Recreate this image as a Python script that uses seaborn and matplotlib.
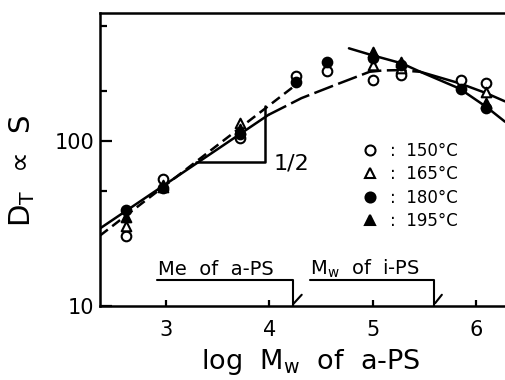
import numpy as np
import pandas as pd
import matplotlib
matplotlib.use("Agg")
import matplotlib.pyplot as plt
import matplotlib.ticker as mticker
from matplotlib.lines import Line2D
import seaborn as sns

# ---------------- data ----------------
log_mw = [2.61, 2.97, 3.72, 4.26, 4.56, 5.00, 5.27, 5.85, 6.10]
ds_150 = [26.5, 58.6, 104, 248, 267, 236, 252, 234, 224]
ds_165 = [30.5, 54.0, 128, np.nan, np.nan, 288, 276, np.nan, 199]
ds_180 = [38.2, 51.6, 111, 229, 302, 317, 290, 208, 158]
ds_195 = [34.7, 53.0, 119, np.nan, np.nan, 347, 302, np.nan, 169]
temps = ["150°C", "165°C", "180°C", "195°C"]

# fitted curves
low_solid_x = [2.36, 3.99]
low_solid_y = [29.5, 144]
low_dash_x = [3.99, 4.16, 4.31, 4.63, 4.97, 5.10, 5.24, 5.46]
low_dash_y = [144, 163, 182, 218, 263, 268, 269, 263]
low_tail_x = [5.46, 5.84, 6.10, 6.28]
low_tail_y = [263, 224, 195, 174]
up_x = [4.77, 4.99, 5.28, 5.46, 5.84, 6.10, 6.28]
up_y = [365, 332, 296, 263, 208, 161, 131]
slope_x = [2.36, 4.30]
slope_y = [26.7, 230]
tri_x = [3.29, 3.96, 3.96]
tri_y = [75, 75, 163]

xticks = [3, 4, 5, 6]
yticks = [10, 100]
yticklabels = ["10", "100"]
yminor = [50, 200, 500]

# ---------------- figure ----------------
sns.set_style("ticks")
plt.rcParams["font.family"] = ["DejaVu Sans"]
plt.rcParams["mathtext.fontset"] = "dejavusans"
for k in ["text.color", "axes.labelcolor", "xtick.color", "ytick.color",
          "axes.edgecolor"]:
    plt.rcParams[k] = "black"

fig = plt.figure(figsize=(5.05, 3.8), dpi=100)
ax = fig.add_axes([100 / 505, 74 / 380, 405 / 505, 293.3 / 380])

df = pd.DataFrame({"x": log_mw * 4,
                   "y": ds_150 + ds_165 + ds_180 + ds_195,
                   "T": sum([[t] * len(log_mw) for t in temps], [])})
styles = {"150°C": ("o", "white"), "165°C": ("^", "white"),
          "180°C": ("o", "black"), "195°C": ("^", "black")}

lw = 1.8
sns.lineplot(x=low_solid_x, y=low_solid_y, sort=False, estimator=None,
             color="black", lw=lw, ax=ax)
sns.lineplot(x=low_dash_x, y=low_dash_y, sort=False, estimator=None,
             color="black", lw=lw, linestyle=(0, (8, 2.2)), ax=ax)
sns.lineplot(x=low_tail_x, y=low_tail_y, sort=False, estimator=None,
             color="black", lw=lw, ax=ax)
sns.lineplot(x=up_x, y=up_y, sort=False, estimator=None,
             color="black", lw=lw, ax=ax)
sns.lineplot(x=slope_x, y=slope_y, sort=False, estimator=None,
             color="black", lw=lw, linestyle=(0, (4, 2.2)), ax=ax)
sns.lineplot(x=tri_x, y=tri_y, sort=False, estimator=None,
             color="black", lw=lw, ax=ax)

for t in temps:
    m, fc = styles[t]
    sub = df[df["T"] == t].dropna()
    sns.scatterplot(data=sub, x="x", y="y", marker=m, s=48, color=fc,
                    edgecolor="black", linewidth=1.5, zorder=3, ax=ax,
                    legend=False)

ax.set_yscale("log")
ax.set_xlim(2.361, 6.28)
ax.set_ylim(10, 600)
ax.xaxis.set_major_locator(mticker.FixedLocator(xticks))
ax.yaxis.set_major_locator(mticker.FixedLocator(yticks))
ax.yaxis.set_major_formatter(mticker.FixedFormatter(yticklabels))
ax.yaxis.set_minor_locator(mticker.FixedLocator(yminor))
ax.yaxis.set_minor_formatter(mticker.NullFormatter())
ax.xaxis.set_minor_locator(mticker.NullLocator())

ax.tick_params(axis="x", which="major", direction="in", length=4, width=1.6,
               labelsize=15, pad=10)
ax.tick_params(axis="y", which="major", direction="in", length=8.5, width=1.6,
               labelsize=15, pad=4)
ax.tick_params(axis="y", which="minor", direction="in", length=5, width=1.6)

for side in ["left", "bottom", "top"]:
    ax.spines[side].set_linewidth(1.8)
    ax.spines[side].set_visible(True)
ax.spines["right"].set_visible(False)

ax.set_xlabel(r"log  M$_\mathrm{w}$  of  a-PS", fontsize=19.5)
ax.xaxis.set_label_coords(0.52, -0.14)
ax.set_ylabel(r"D$_\mathrm{T}$  ∝  S", fontsize=21)
ax.yaxis.set_label_coords(-0.155, 0.46)

# slope label
ax.text(4.21, 73.6, "1/2", fontsize=16, ha="center", va="center")

# bracket annotations
ax.text(2.92, 15.4, "Me  of  a-PS", fontsize=14, ha="left", va="baseline")
ax.plot([2.91, 4.23, 4.23], [14.4, 14.4, 10], color="black", lw=1.5,
        clip_on=False)
ax.plot([4.232, 4.313], [10.3, 11.7], color="black", lw=1.5)
ax.text(4.39, 15.4, r"M$_\mathrm{w}$  of  i-PS", fontsize=14, ha="left",
        va="baseline")
ax.plot([4.39, 5.59, 5.59], [14.4, 14.4, 10], color="black", lw=1.5,
        clip_on=False)
ax.plot([5.604, 5.669], [10.4, 11.7], color="black", lw=1.5)

# legend
handles = []
for t in temps:
    m, fc = styles[t]
    handles.append(Line2D([], [], linestyle="none", marker=m, markersize=7.2,
                          markerfacecolor=fc, markeredgecolor="black",
                          markeredgewidth=1.5))
ax.legend(handles, [":  " + t for t in temps], loc="upper left",
          bbox_to_anchor=(0.646, 0.56), frameon=False, fontsize=12,
          handlelength=1.0, handletextpad=0.7, labelspacing=0.33,
          borderpad=0, borderaxespad=0)

fig.savefig("out.png", dpi=100)
